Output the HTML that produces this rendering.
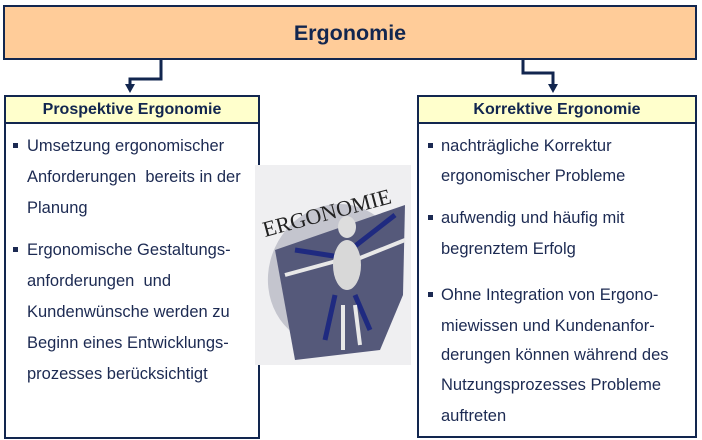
<!DOCTYPE html>
<html><head><meta charset="utf-8"><style>
body{margin:0;width:702px;height:440px;background:#fff;position:relative;overflow:hidden;font-family:"Liberation Sans",Arial,sans-serif}
.a{position:absolute;box-sizing:border-box}
.t{position:absolute;font-size:16.5px;color:#1c2a52;white-space:nowrap;line-height:18px}
.b{position:absolute;width:5px;height:5px;background:#1c2a52}
</style></head><body>
<div class="a" style="left:3px;top:5px;width:694px;height:55px;background:#ffcc99;border:2px solid #12264f"></div>
<div class="t" style="left:3px;top:22px;width:694px;text-align:center;font-size:21.5px;font-weight:bold;color:#12264f;line-height:22px">Ergonomie</div>
<svg class="a" style="left:0;top:0" width="702" height="440">
<path d="M161 60 V79 H130 V86" fill="none" stroke="#12264f" stroke-width="3"/>
<path d="M125 84 H135 L130 93 Z" fill="#12264f"/>
<path d="M523 60 V73 H553 V86" fill="none" stroke="#12264f" stroke-width="3"/>
<path d="M548 84 H558 L553 93 Z" fill="#12264f"/>
</svg>
<div class="a" style="left:4px;top:95px;width:256px;height:344px;border:2px solid #12264f;background:#fff"></div>
<div class="a" style="left:4px;top:95px;width:256px;height:29px;border:2px solid #12264f;background:#ffffcc"></div>
<div class="t" style="left:4px;top:101px;width:256px;text-align:center;font-weight:bold;color:#12264f;font-size:16px">Prospektive Ergonomie</div>
<div class="a" style="left:417px;top:95px;width:280px;height:343px;border:2px solid #12264f;background:#fff"></div>
<div class="a" style="left:417px;top:95px;width:280px;height:29px;border:2px solid #12264f;background:#ffffcc"></div>
<div class="t" style="left:417px;top:101px;width:280px;text-align:center;font-weight:bold;color:#12264f;font-size:16px">Korrektive Ergonomie</div>
<svg class="a" style="left:255px;top:165px" width="156" height="200">
<rect width="156" height="200" fill="#efeff1"/>
<ellipse cx="80" cy="110" rx="66" ry="72" fill="#c4c5ce" transform="rotate(25 80 110)"/>
<path d="M20 85 L150 40 L148 130 L125 185 L40 195 Z" fill="#55597a"/>
<text x="10" y="72" font-family="Liberation Serif,serif" font-size="22" fill="#222" transform="rotate(-15 10 72)">ERGONOMIE</text>
<g stroke="#1f2a80" stroke-width="5" fill="none"><path d="M40 85 L85 92 M95 85 L140 50 M80 130 L70 175 M100 130 L115 165"/></g>
<g stroke="#e8e8e8" stroke-width="4" fill="none"><path d="M30 110 L85 95 M100 95 L150 75 M88 140 L88 185 M100 140 L105 180"/></g>
<ellipse cx="92" cy="62" rx="9" ry="11" fill="#ddd"/>
<ellipse cx="92" cy="100" rx="14" ry="25" fill="#d8d8d8"/>
</svg>
<div class="b" style="left:13px;top:143px"></div>
<div class="t" style="left:27px;top:137px">Umsetzung ergonomischer</div>
<div class="t" style="left:27px;top:168px">Anforderungen&nbsp; bereits in der</div>
<div class="t" style="left:27px;top:199px">Planung</div>
<div class="b" style="left:13px;top:247px"></div>
<div class="t" style="left:27px;top:241px">Ergonomische Gestaltungs-</div>
<div class="t" style="left:27px;top:272px">anforderungen&nbsp; und</div>
<div class="t" style="left:27px;top:303px">Kundenwünsche werden zu</div>
<div class="t" style="left:27px;top:334px">Beginn eines Entwicklungs-</div>
<div class="t" style="left:27px;top:365px">prozesses berücksichtigt</div>
<div class="b" style="left:428px;top:143px"></div>
<div class="t" style="left:441px;top:137px">nachträgliche Korrektur</div>
<div class="t" style="left:441px;top:167px">ergonomischer Probleme</div>
<div class="b" style="left:428px;top:215px"></div>
<div class="t" style="left:441px;top:209px">aufwendig und häufig mit</div>
<div class="t" style="left:441px;top:240px">begrenztem Erfolg</div>
<div class="b" style="left:428px;top:292px"></div>
<div class="t" style="left:441px;top:286px">Ohne Integration von Ergono-</div>
<div class="t" style="left:441px;top:317px">miewissen und Kundenanfor-</div>
<div class="t" style="left:441px;top:346px">derungen können während des</div>
<div class="t" style="left:441px;top:376px">Nutzungsprozesses Probleme</div>
<div class="t" style="left:441px;top:407px">auftreten</div>
</body></html>
